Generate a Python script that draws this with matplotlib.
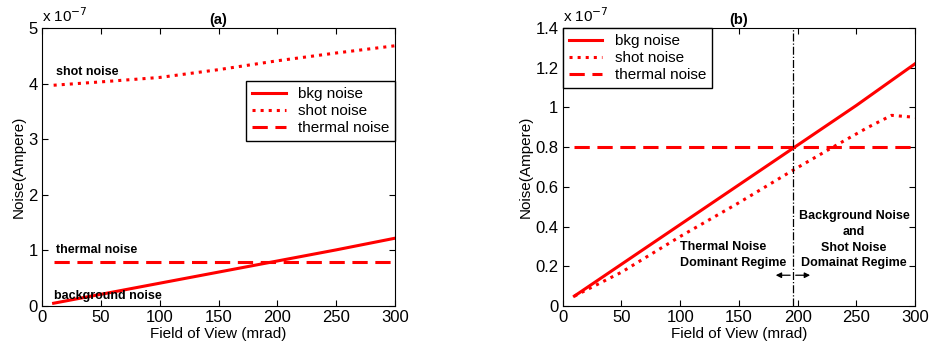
import matplotlib.pyplot as plt
from matplotlib.ticker import FuncFormatter

plt.rcParams['font.family'] = ['Liberation Sans', 'DejaVu Sans']

# values in units of 1e-7 A
fov = [10, 50, 100, 150, 200, 250, 300]
bkg = [0.05, 0.21, 0.41, 0.61, 0.81, 1.01, 1.22]
shot_a = [3.97, 4.03, 4.11, 4.25, 4.41, 4.55, 4.68]
thermal = [0.8, 0.8, 0.8, 0.8, 0.8, 0.8, 0.8]

fov_b = [10, 50, 100, 150, 195, 230, 260, 280, 290, 300]
shot_b = [0.05, 0.17, 0.35, 0.52, 0.68, 0.80, 0.90, 0.96, 0.955, 0.95]
thermal_b = [0.8] * len(fov_b)

boundary = 196
red = '#ff0000'

fig = plt.figure(figsize=(9.3, 3.45), dpi=100)
ax1 = fig.add_axes([0.045, 0.113, 0.38, 0.806])
ax2 = fig.add_axes([0.605, 0.113, 0.379, 0.806])

fmt = FuncFormatter(lambda v, p: '%g' % round(v, 2))

# (a)
ax1.plot(fov, bkg, '-', color=red, lw=2.2, label='bkg noise')
ax1.plot(fov, shot_a, ':', color=red, lw=2.2, label='shot noise')
ax1.plot(fov, thermal, '--', color=red, lw=2.2, dashes=(5, 2.5), label='thermal noise')
ax1.set_xlim(0, 300)
ax1.set_ylim(0, 5)
ax1.set_title('(a)', fontsize=10.5, fontweight='bold', pad=3)
ax1.text(12, 4.15, 'shot noise', fontsize=9, fontweight='bold')
ax1.text(12, 0.95, 'thermal noise', fontsize=9, fontweight='bold')
ax1.text(10, 0.12, 'background noise', fontsize=9, fontweight='bold')
ax1.legend(loc='upper right', bbox_to_anchor=(1.0, 0.81), fontsize=11,
           fancybox=False, edgecolor='black', framealpha=1, borderaxespad=0,
           handlelength=2.2, labelspacing=0.2, borderpad=0.4)

# (b)
ax2.plot(fov, bkg, '-', color=red, lw=2.2, label='bkg noise')
ax2.plot(fov_b, shot_b, ':', color=red, lw=2.2, label='shot noise')
ax2.plot(fov_b, thermal_b, '--', color=red, lw=2.2, dashes=(5, 2.5), label='thermal noise')
ax2.axvline(boundary, color='black', lw=0.9, ls='-.')
ax2.annotate('', xy=(179, 0.155), xytext=(boundary, 0.155),
             arrowprops=dict(arrowstyle='-|>', color='black', lw=0.9, mutation_scale=8))
ax2.annotate('', xy=(213, 0.155), xytext=(boundary, 0.155),
             arrowprops=dict(arrowstyle='-|>', color='black', lw=0.9, mutation_scale=8))
ax2.text(190, 0.185, 'Thermal Noise\nDominant Regime', fontsize=9, fontweight='bold',
         ha='right', va='bottom', linespacing=1.45, multialignment='left')
ax2.text(248, 0.185, 'Background Noise\nand\nShot Noise\nDomainat Regime', fontsize=9,
         fontweight='bold', ha='center', va='bottom', linespacing=1.4)
ax2.set_xlim(0, 300)
ax2.set_ylim(0, 1.4)
ax2.set_yticks([0, 0.2, 0.4, 0.6, 0.8, 1.0, 1.2, 1.4])
ax2.set_title('(b)', fontsize=10.5, fontweight='bold', pad=3)
ax2.legend(loc='upper left', fontsize=11, fancybox=False, edgecolor='black',
           framealpha=1, borderaxespad=0, handlelength=2.2, labelspacing=0.2,
           borderpad=0.4)

for ax in (ax1, ax2):
    ax.yaxis.set_major_formatter(fmt)
    ax.set_xticks([0, 50, 100, 150, 200, 250, 300])
    ax.tick_params(direction='in', top=True, right=True, labelsize=12, length=4, pad=3)
    ax.set_xlabel('Field of View (mrad)', fontsize=11, labelpad=1)
    ax.set_ylabel('Noise(Ampere)', fontsize=11, labelpad=2)
    ax.text(0.0, 1.01, r'x 10$^{-7}$', transform=ax.transAxes, fontsize=11,
            ha='left', va='bottom')
    for s in ax.spines.values():
        s.set_linewidth(0.8)

fig.savefig('out.png', dpi=100)
